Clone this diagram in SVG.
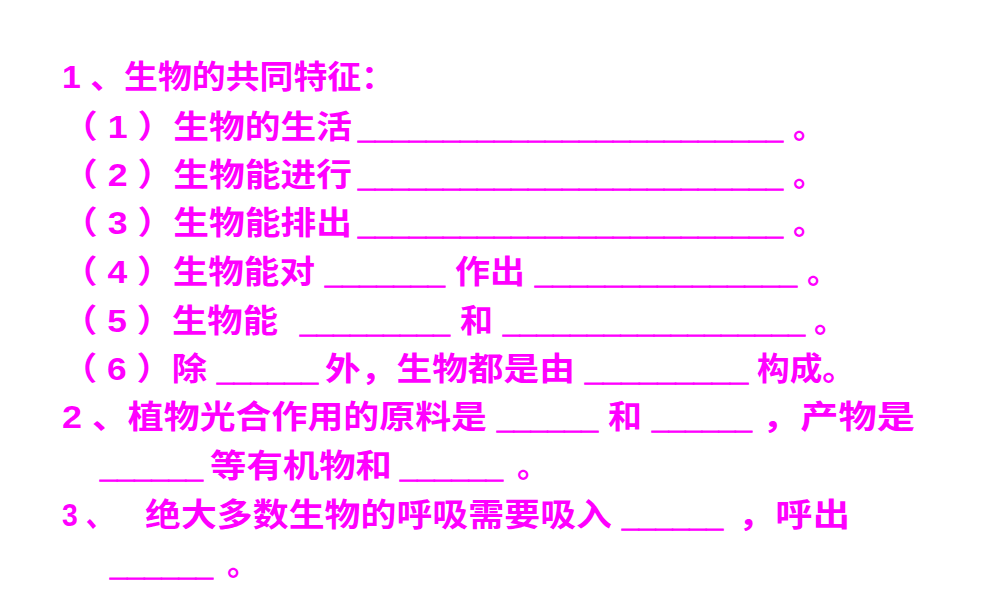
<svg xmlns="http://www.w3.org/2000/svg" width="1000" height="600" viewBox="0 0 1000 600">
<style>
text{font-family:"Liberation Sans","Noto Sans CJK SC",sans-serif;font-weight:bold;font-size:32px;fill:#FF00FF}
.u{stroke:#FF00FF;stroke-width:1}
</style>
<rect width="1000" height="600" fill="#fff"/>
<g id="q1">
<text x="62" y="88" textLength="333" lengthAdjust="spacingAndGlyphs">1 、生物的共同特征：</text>
<text x="62" y="138" textLength="290" lengthAdjust="spacingAndGlyphs">（ 1 ）生物的生活</text>
<text class="u" x="358" y="138" textLength="425" lengthAdjust="spacingAndGlyphs">_________________________</text>
<text x="793" y="138">。</text>
<text x="62" y="186" textLength="290" lengthAdjust="spacingAndGlyphs">（ 2 ）生物能进行</text>
<text class="u" x="358" y="186" textLength="425" lengthAdjust="spacingAndGlyphs">_________________________</text>
<text x="793" y="186">。</text>
<text x="62" y="234" textLength="290" lengthAdjust="spacingAndGlyphs">（ 3 ）生物能排出</text>
<text class="u" x="358" y="234" textLength="425" lengthAdjust="spacingAndGlyphs">_________________________</text>
<text x="793" y="234">。</text>
<text x="62" y="283" textLength="253" lengthAdjust="spacingAndGlyphs">（ 4 ）生物能对</text>
<text class="u" x="325" y="283" textLength="120" lengthAdjust="spacingAndGlyphs">_______</text>
<text x="455" y="283" textLength="70" lengthAdjust="spacingAndGlyphs">作出</text>
<text class="u" x="535" y="283" textLength="262" lengthAdjust="spacingAndGlyphs">_______________</text>
<text x="807" y="283">。</text>
<text x="62" y="332" textLength="216" lengthAdjust="spacingAndGlyphs">（ 5 ）生物能</text>
<text class="u" x="300" y="332" textLength="150" lengthAdjust="spacingAndGlyphs">_________</text>
<text x="460" y="332" textLength="33" lengthAdjust="spacingAndGlyphs">和</text>
<text class="u" x="503" y="332" textLength="302" lengthAdjust="spacingAndGlyphs">__________________</text>
<text x="814" y="332">。</text>
<text x="62" y="380" textLength="145" lengthAdjust="spacingAndGlyphs">（ 6 ）除</text>
<text class="u" x="217" y="380" textLength="101" lengthAdjust="spacingAndGlyphs">______</text>
<text x="325" y="380" textLength="250" lengthAdjust="spacingAndGlyphs">外，生物都是由</text>
<text class="u" x="585" y="380" textLength="163" lengthAdjust="spacingAndGlyphs">_________</text>
<text x="757" y="380" textLength="98" lengthAdjust="spacingAndGlyphs">构成。</text>
</g>
<g id="q2">
<text x="62" y="428" textLength="425" lengthAdjust="spacingAndGlyphs">2 、植物光合作用的原料是</text>
<text class="u" x="497" y="428" textLength="101" lengthAdjust="spacingAndGlyphs">______</text>
<text x="608" y="428" textLength="34" lengthAdjust="spacingAndGlyphs">和</text>
<text class="u" x="652" y="428" textLength="100" lengthAdjust="spacingAndGlyphs">______</text>
<text x="762" y="428" textLength="153" lengthAdjust="spacingAndGlyphs">，产物是</text>
<text class="u" x="100" y="477" textLength="103" lengthAdjust="spacingAndGlyphs">______</text>
<text x="210" y="477" textLength="182" lengthAdjust="spacingAndGlyphs">等有机物和</text>
<text class="u" x="400" y="477" textLength="103" lengthAdjust="spacingAndGlyphs">______</text>
<text x="517" y="477">。</text>
</g>
<g id="q3">
<text x="62" y="526" textLength="52" lengthAdjust="spacingAndGlyphs">3 、</text>
<text x="145" y="526" textLength="467" lengthAdjust="spacingAndGlyphs">绝大多数生物的呼吸需要吸入</text>
<text class="u" x="622" y="526" textLength="101" lengthAdjust="spacingAndGlyphs">______</text>
<text x="738" y="526" textLength="112" lengthAdjust="spacingAndGlyphs">，呼出</text>
<text class="u" x="110" y="575" textLength="103" lengthAdjust="spacingAndGlyphs">______</text>
<text x="227" y="575">。</text>
</g>
</svg>
